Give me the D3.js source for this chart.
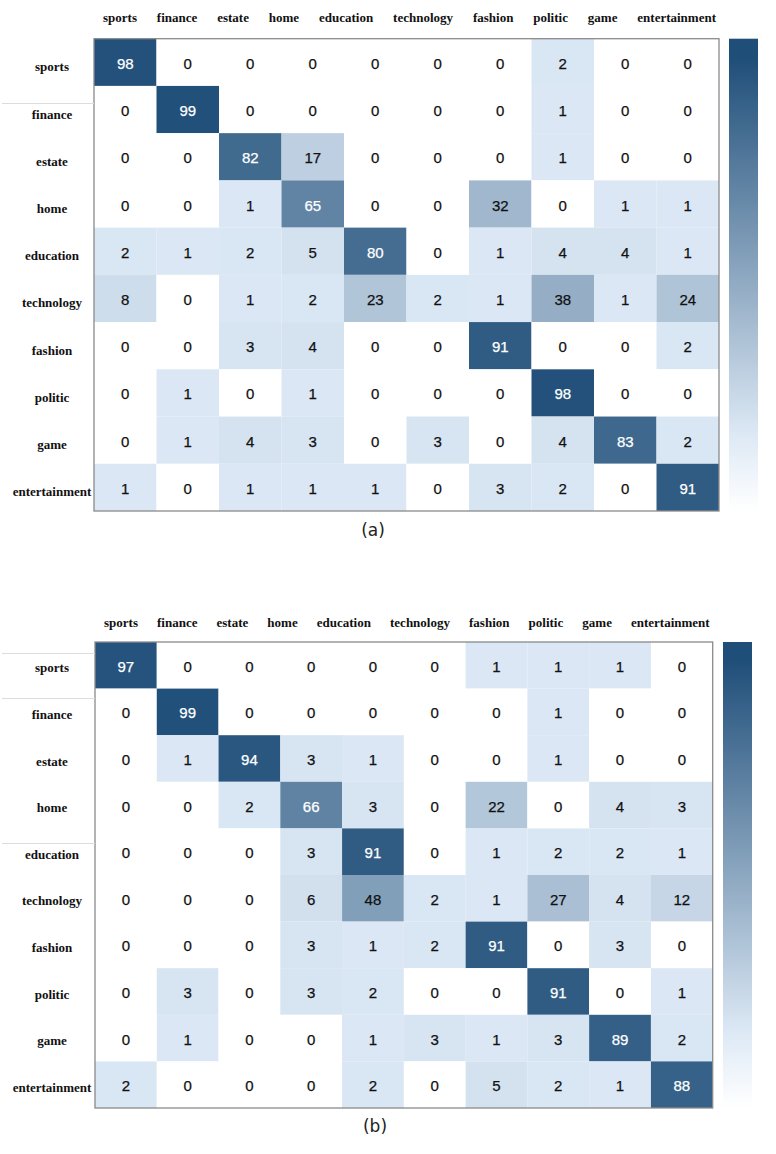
<!DOCTYPE html>
<html>
<head>
<meta charset="utf-8">
<script src="https://cdn.jsdelivr.net/npm/d3@7"></script>
<style>
  html, body { margin: 0; padding: 0; background: #ffffff; }
  svg { display: block; }
</style>
</head>
<body>
<script>
// ---------- data ----------
const categories = ["sports", "finance", "estate", "home", "education", "technology", "fashion", "politic", "game", "entertainment"];

const matrixA = [
  [98, 0, 0, 0, 0, 0, 0, 2, 0, 0],
  [0, 99, 0, 0, 0, 0, 0, 1, 0, 0],
  [0, 0, 82, 17, 0, 0, 0, 1, 0, 0],
  [0, 0, 1, 65, 0, 0, 32, 0, 1, 1],
  [2, 1, 2, 5, 80, 0, 1, 4, 4, 1],
  [8, 0, 1, 2, 23, 2, 1, 38, 1, 24],
  [0, 0, 3, 4, 0, 0, 91, 0, 0, 2],
  [0, 1, 0, 1, 0, 0, 0, 98, 0, 0],
  [0, 1, 4, 3, 0, 3, 0, 4, 83, 2],
  [1, 0, 1, 1, 1, 0, 3, 2, 0, 91]
];

const matrixB = [
  [97, 0, 0, 0, 0, 0, 1, 1, 1, 0],
  [0, 99, 0, 0, 0, 0, 0, 1, 0, 0],
  [0, 1, 94, 3, 1, 0, 0, 1, 0, 0],
  [0, 0, 2, 66, 3, 0, 22, 0, 4, 3],
  [0, 0, 0, 3, 91, 0, 1, 2, 2, 1],
  [0, 0, 0, 6, 48, 2, 1, 27, 4, 12],
  [0, 0, 0, 3, 1, 2, 91, 0, 3, 0],
  [0, 3, 0, 3, 2, 0, 0, 91, 0, 1],
  [0, 1, 0, 0, 1, 3, 1, 3, 89, 2],
  [2, 0, 0, 0, 2, 0, 5, 2, 1, 88]
];

const captions = ["(a)", "(b)"];

// ---------- layout / style ----------
const W = 776, H = 1154;
const panels = [
  { data: matrixA, caption: captions[0], left: 94, right: 719, top: 38.7, bottom: 511,
    barX: 729, barW: 29, colLabelY: 22, rowLabelDy: 4.5, capX: 373, capY: 530,
    sideLines: [103.5] },
  { data: matrixB, caption: captions[1], left: 95, right: 712.7, top: 642, bottom: 1108,
    barX: 723, barW: 29, colLabelY: 626.5, rowLabelDy: 2.5, capX: 375, capY: 1126,
    sideLines: [653.5, 698.5, 843.5] }
];

const darkColor = "#1f4e79";
const lightColor = "#dde9f5";
const interp = d3.interpolateRgb(lightColor, darkColor);
const color = v => v === 0 ? "#ffffff" : interp(v / 100);

const svg = d3.select("body").append("svg")
  .attr("width", W).attr("height", H)
  .attr("viewBox", `0 0 ${W} ${H}`);

// gradient for colorbar
const defs = svg.append("defs");
const grad = defs.append("linearGradient").attr("id", "cbar")
  .attr("x1", 0).attr("y1", 0).attr("x2", 0).attr("y2", 1);
grad.append("stop").attr("offset", "0%").attr("stop-color", darkColor);
grad.append("stop").attr("offset", "4%").attr("stop-color", darkColor);
grad.append("stop").attr("offset", "84%").attr("stop-color", lightColor);
grad.append("stop").attr("offset", "100%").attr("stop-color", "#ffffff");

panels.forEach(p => {
  const g = svg.append("g");
  const x = d3.scaleBand().domain(d3.range(categories.length)).range([p.left, p.right]);
  const y = d3.scaleBand().domain(d3.range(categories.length)).range([p.top, p.bottom]);

  const cells = [];
  p.data.forEach((row, i) => row.forEach((v, j) => cells.push({ i, j, v })));

  g.selectAll("rect.cell").data(cells).join("rect")
    .attr("class", "cell")
    .attr("x", d => x(d.j))
    .attr("y", d => y(d.i))
    .attr("width", x.bandwidth())
    .attr("height", y.bandwidth())
    .attr("fill", d => color(d.v));

  g.selectAll("text.val").data(cells).join("text")
    .attr("class", "val")
    .attr("x", d => x(d.j) + x.bandwidth() / 2)
    .attr("y", d => y(d.i) + y.bandwidth() / 2 + 1)
    .attr("text-anchor", "middle")
    .attr("dominant-baseline", "central")
    .attr("font-family", "'Liberation Sans', Arial, sans-serif")
    .attr("font-size", 15)
    .attr("fill", d => d.v >= 50 ? "#ffffff" : "#111111")
    .attr("stroke", d => d.v >= 50 ? "#ffffff" : "#111111")
    .attr("stroke-width", 0.25)
    .text(d => d.v);

  // frame
  g.append("rect")
    .attr("x", p.left).attr("y", p.top)
    .attr("width", p.right - p.left).attr("height", p.bottom - p.top)
    .attr("fill", "none").attr("stroke", "#8a8a8a").attr("stroke-width", 1.3);

  // faint side lines (artifacts of the original)
  g.selectAll("line.side").data(p.sideLines).join("line")
    .attr("x1", 2).attr("x2", p.left)
    .attr("y1", d => d).attr("y2", d => d)
    .attr("stroke", "#dcdcdc").attr("stroke-width", 1);

  // row labels
  g.selectAll("text.row").data(categories).join("text")
    .attr("class", "row")
    .attr("x", 52)
    .attr("y", (d, i) => y(i) + y.bandwidth() / 2 + p.rowLabelDy)
    .attr("text-anchor", "middle")
    .attr("dominant-baseline", "central")
    .attr("font-family", "'Liberation Serif', 'Times New Roman', serif")
    .attr("font-weight", "bold")
    .attr("font-size", 13)
    .attr("fill", "#111")
    .text(d => d);

  // column labels: laid out as a flowing line spanning the matrix width
  const colTexts = g.selectAll("text.col").data(categories).join("text")
    .attr("class", "col")
    .attr("y", p.colLabelY)
    .attr("font-family", "'Liberation Serif', 'Times New Roman', serif")
    .attr("font-weight", "bold")
    .attr("font-size", 13)
    .attr("fill", "#111")
    .text(d => d);
  const widths = colTexts.nodes().map(n => n.getComputedTextLength());
  const startX = p.left + 9, endX = p.right - 3;
  const gap = (endX - startX - d3.sum(widths)) / (categories.length - 1);
  let cx = startX;
  colTexts.each(function(d, i) {
    d3.select(this).attr("x", cx);
    cx += widths[i] + gap;
  });

  // colorbar
  g.append("rect")
    .attr("x", p.barX).attr("y", p.top)
    .attr("width", p.barW).attr("height", p.bottom - p.top)
    .attr("fill", "url(#cbar)");

  // caption
  g.append("text")
    .attr("x", p.capX).attr("y", p.capY)
    .attr("text-anchor", "middle")
    .attr("dominant-baseline", "central")
    .attr("font-family", "'DejaVu Sans', sans-serif")
    .attr("font-size", 17)
    .attr("fill", "#222")
    .text(p.caption);
});
</script>
</body>
</html>
